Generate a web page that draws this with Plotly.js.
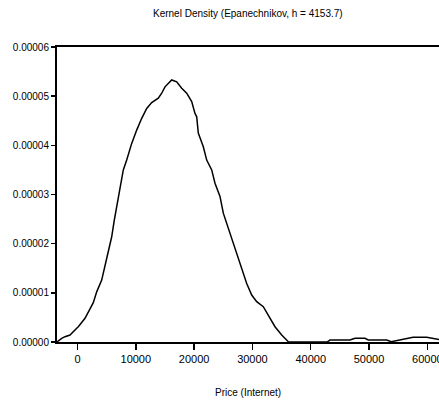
<!DOCTYPE html>
<html>
<head>
<meta charset="utf-8">
<script src="https://cdn.plot.ly/plotly-3.0.1.min.js"></script>
<style>html,body{margin:0;padding:0;background:#fff;overflow:hidden;width:439px;height:400px;}#chart{width:480px;height:400px;}</style>
</head>
<body>
<div id="chart"></div>
<script>
const chartTitle = "Kernel Density (Epanechnikov, h = 4153.7)";
const xAxisTitle = "Price (Internet)";
const price = [-3516,-2710,-2144,-1286,-137,137,1286,1578,2710,3293,3859,4150,5282,5865,6311,6723,7289,7855,8438,9295,10153,11010,11868,12725,13857,14440,15006,16155,17013,17870,18728,19294,19585,20151,20443,20717,21575,22158,23015,23581,24439,25005,25588,25862,26445,27303,28160,29018,29875,30733,31865,32722,33871,35020,36152,38000,40000,42000,42800,43300,45000,46730,47590,49300,49870,51500,53030,53800,54800,55820,57540,59890,61650,62500,64000,66000];
const density = [0,7.5e-7,1.08e-6,1.42e-6,2.79e-6,3.1e-6,4.82e-6,5.49e-6,8.0e-6,1.02e-5,1.19e-5,1.26e-5,1.84e-5,2.14e-5,2.48e-5,2.75e-5,3.16e-5,3.50e-5,3.70e-5,4.04e-5,4.31e-5,4.55e-5,4.75e-5,4.87e-5,4.96e-5,5.06e-5,5.19e-5,5.33e-5,5.29e-5,5.16e-5,5.06e-5,4.96e-5,4.89e-5,4.65e-5,4.58e-5,4.25e-5,3.97e-5,3.70e-5,3.50e-5,3.23e-5,2.96e-5,2.62e-5,2.41e-5,2.29e-5,2.07e-5,1.80e-5,1.50e-5,1.19e-5,9.56e-6,8.2e-6,7.18e-6,5.49e-6,3.11e-6,1.42e-6,6e-8,0,0,0,0,4e-7,4e-7,4e-7,7.5e-7,7.5e-7,4e-7,4e-7,4e-7,5e-8,3e-7,5e-7,9.5e-7,9.5e-7,5e-7,4e-7,2e-7,0];
const yTicks = [0,0.00001,0.00002,0.00003,0.00004,0.00005,0.00006];
const xTicks = [0,10000,20000,30000,40000,50000,60000];

const fontFam = "Liberation Sans, Arial, sans-serif";
Plotly.newPlot('chart', [{
  x: price, y: density, type: 'scatter', mode: 'lines',
  line: {color: '#000', width: 1.5}, hoverinfo: 'skip'
}], {
  width: 480, height: 400,
  margin: {l: 57, r: 10, t: 47, b: 58, pad: 0},
  paper_bgcolor: '#fff', plot_bgcolor: '#fff',
  showlegend: false,
  font: {family: fontFam, color: '#000', size: 10},
  annotations: [{text: chartTitle, showarrow: false, xref: 'paper', yref: 'paper',
                 x: (248 - 57) / 413, y: 1 + 34 / 295, xanchor: 'center', yanchor: 'middle',
                 font: {size: 10, family: fontFam, color: '#000'}},
                {text: xAxisTitle, showarrow: false, xref: 'paper', yref: 'paper',
                 x: (248 - 57) / 413, y: -(392 - 342) / 295, xanchor: 'center', yanchor: 'middle',
                 font: {size: 10, family: fontFam, color: '#000'}}],
  xaxis: {range: [-3516, 67314], showline: true, linecolor: '#000', linewidth: 2, mirror: true,
          ticks: 'outside', ticklen: 6, tickwidth: 1.5, tickcolor: '#000',
          tickvals: xTicks, tickformat: 'd', showgrid: false, zeroline: false,
          tickfont: {size: 11, family: fontFam}},
  yaxis: {range: [0, 0.00006], showline: true, linecolor: '#000', linewidth: 2,
          ticks: 'outside', ticklen: 4, tickwidth: 1.5, tickcolor: '#000',
          tickvals: yTicks, tickformat: '.5f', showgrid: false, zeroline: false,
          tickfont: {size: 10, family: fontFam}}
}, {displayModeBar: false, staticPlot: true});
</script>
</body>
</html>
